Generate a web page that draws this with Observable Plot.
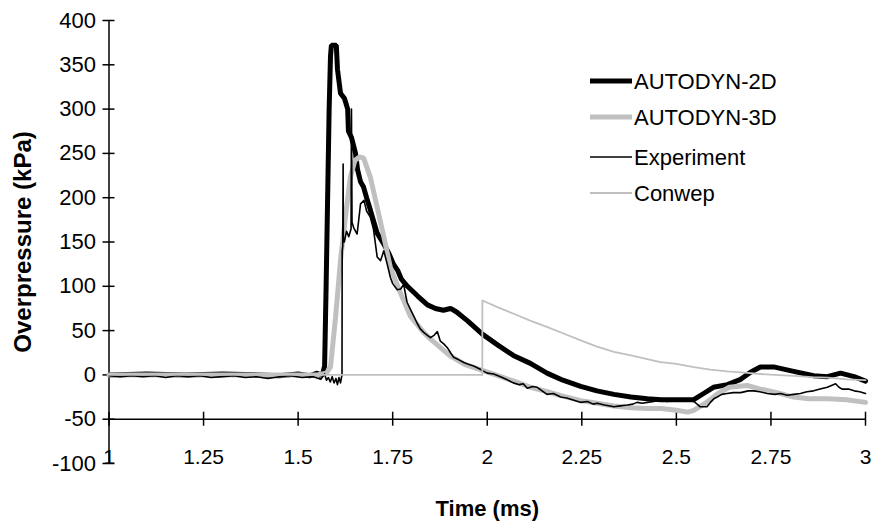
<!DOCTYPE html>
<html><head><meta charset="utf-8">
<script src="https://cdn.jsdelivr.net/npm/d3@7"></script>
<script src="https://cdn.jsdelivr.net/npm/@observablehq/plot@0.6"></script>
<style>
body{margin:0;background:#fff;}
#chart svg{display:block;}
</style>
</head><body><div id="chart"></div>
<script>
const seriesNames = ["AUTODYN-2D", "AUTODYN-3D", "Experiment", "Conwep"];
const xTicks = [1, 1.25, 1.5, 1.75, 2, 2.25, 2.5, 2.75, 3];
const xTickLabels = ["1", "1.25", "1.5", "1.75", "2", "2.25", "2.5", "2.75", "3"];
const yTicks = [-100, -50, 0, 50, 100, 150, 200, 250, 300, 350, 400];
const yTickLabels = ["-100", "-50", "0", "50", "100", "150", "200", "250", "300", "350", "400"];

// AUTODYN-2D
const t2D = [1.000, 1.100, 1.200, 1.300, 1.400, 1.450, 1.500, 1.530, 1.550, 1.560, 1.566, 1.570, 1.574, 1.578, 1.582, 1.5856, 1.588, 1.601, 1.604, 1.612, 1.6226, 1.631, 1.633, 1.641, 1.6517, 1.657, 1.665, 1.673, 1.681, 1.691, 1.709, 1.726, 1.739, 1.752, 1.763, 1.773, 1.789, 1.816, 1.842, 1.863, 1.884, 1.903, 1.919, 1.948, 1.987, 2.030, 2.069, 2.114, 2.158, 2.200, 2.247, 2.290, 2.335, 2.380, 2.423, 2.460, 2.500, 2.546, 2.572, 2.598, 2.635, 2.670, 2.696, 2.722, 2.757, 2.810, 2.863, 2.899, 2.934, 2.970, 3.000];
const p2D = [0, 1, 0, 1, 0, -1, 1, -1, 2, -1, 3, 10, 100, 200, 300, 360, 372, 372, 345, 318, 312, 300, 275, 268, 250, 232, 218, 212, 200, 186, 160, 148, 138, 125, 118, 108, 100, 89, 79, 75, 73, 75, 71, 61, 46, 33, 22, 13, 2, -6, -13, -18, -22, -25, -27, -28, -28, -28, -21, -14, -11, -5, 3, 9, 9, 4, -1, -2, 2, -2, -7];

// AUTODYN-3D
const t3D = [1.000, 1.200, 1.400, 1.550, 1.575, 1.5856, 1.599, 1.612, 1.625, 1.638, 1.650, 1.662, 1.673, 1.691, 1.709, 1.727, 1.744, 1.771, 1.797, 1.832, 1.851, 1.900, 1.940, 1.987, 2.030, 2.070, 2.115, 2.159, 2.200, 2.247, 2.290, 2.335, 2.380, 2.423, 2.460, 2.500, 2.530, 2.546, 2.580, 2.610, 2.640, 2.687, 2.722, 2.766, 2.810, 2.850, 2.900, 2.950, 3.000];
const p3D = [0, 0, 0, 0, 2, 9, 65, 129, 178, 223, 242, 246, 245, 223, 189, 155, 121, 92, 66, 48, 40, 22, 12, 5, -1, -7, -14, -19, -24, -29, -32, -35, -37, -38, -38, -40, -42, -40, -31, -21, -14, -12, -16, -20, -25, -27, -27, -28, -31];

// Experiment
const tExp = [1.000, 1.030, 1.060, 1.090, 1.120, 1.150, 1.180, 1.210, 1.240, 1.270, 1.300, 1.330, 1.360, 1.390, 1.420, 1.450, 1.480, 1.510, 1.540, 1.560, 1.570, 1.575, 1.580, 1.585, 1.590, 1.595, 1.600, 1.604, 1.608, 1.612, 1.616, 1.6165, 1.618, 1.619, 1.6195, 1.622, 1.628, 1.634, 1.640, 1.641, 1.6425, 1.647, 1.656, 1.665, 1.674, 1.681, 1.691, 1.699, 1.709, 1.718, 1.7265, 1.7355, 1.744, 1.750, 1.762, 1.771, 1.779, 1.788, 1.797, 1.806, 1.815, 1.823, 1.832, 1.841, 1.850, 1.860, 1.868, 1.876, 1.885, 1.894, 1.903, 1.911, 1.925, 1.938, 1.950, 1.964, 1.983, 2.000, 2.017, 2.035, 2.050, 2.069, 2.085, 2.095, 2.106, 2.120, 2.132, 2.145, 2.158, 2.175, 2.194, 2.210, 2.225, 2.246, 2.265, 2.280, 2.291, 2.310, 2.335, 2.352, 2.370, 2.385, 2.396, 2.410, 2.423, 2.440, 2.458, 2.475, 2.493, 2.520, 2.546, 2.555, 2.563, 2.581, 2.590, 2.599, 2.608, 2.620, 2.634, 2.650, 2.670, 2.690, 2.705, 2.720, 2.740, 2.760, 2.775, 2.793, 2.810, 2.828, 2.845, 2.863, 2.880, 2.899, 2.910, 2.921, 2.930, 2.938, 2.955, 2.970, 2.985, 3.000];
const pExp = [-1, -2, -1, -2, -1, -3, -1, -2, -1, -3, -2, -1, -3, -2, -4, -2, -1, -3, -2, -5, 1, -6, -3, -8, -2, -9, -4, -11, -3, -9, 0, 140, 145, 238, 152, 150, 162, 156, 165, 300, 172, 166, 159, 193, 197, 185, 178, 165, 133, 129, 140, 125, 110, 103, 96, 97, 102, 82, 74, 66, 58, 52, 48, 45, 42, 45, 49, 38, 35, 31, 25, 20, 17, 14, 12, 10, 6, 2, 1, -2, -5, -9, -11, -10, -15, -13, -14, -18, -22, -21, -25, -26, -28, -31, -30, -33, -32, -34, -36, -35, -34, -33, -31, -32, -31, -30, -28, -30, -29, -28, -30, -33, -36, -36, -31, -27, -25, -22, -21, -20, -20, -18, -18, -19, -21, -22, -21, -23, -22, -21, -19, -18, -16, -14, -12, -10, -14, -16, -16, -18, -19, -21];

// Conwep
const tConwep = [1.000, 1.987, 1.9871, 2.030, 2.070, 2.115, 2.159, 2.200, 2.247, 2.290, 2.335, 2.380, 2.420, 2.458, 2.500, 2.546, 2.590, 2.635, 2.680, 2.722, 2.760, 2.810, 2.860, 2.900, 2.950, 3.000];
const pConwep = [0, 0, 84, 76, 69, 61, 54, 47, 39, 32, 26, 22, 18, 14.5, 12.5, 8.7, 6, 4, 2.5, 1, 0, -1, -2.5, -3, -5, -6];

const zip = (ts, ps, name) => ts.map((t, i) => ({t, p: ps[i], name}));
const d2D = zip(t2D, p2D, seriesNames[0]);
const d3D = zip(t3D, p3D, seriesNames[1]);
const dExp = zip(tExp, pExp, seriesNames[2]);
const dCon = zip(tConwep, pConwep, seriesNames[3]);

const styles = {
  "AUTODYN-2D": {stroke: "#000000", strokeWidth: 5},
  "AUTODYN-3D": {stroke: "#c0c0c0", strokeWidth: 5},
  "Experiment": {stroke: "#000000", strokeWidth: 1.6},
  "Conwep": {stroke: "#c0c0c0", strokeWidth: 1.8}
};

const font = "'Liberation Sans', Arial, sans-serif";
const xUnitPx = 378.25, yUnitPx = 0.886;
const yTickHalf = 6 / xUnitPx;   // tick half-length in x units
const xTickHalf = 7 / yUnitPx;   // tick half-length in y units

const chart = Plot.plot({
  width: 875,
  height: 523,
  marginLeft: 108.5,
  marginRight: 10,
  marginTop: 20,
  marginBottom: 60,
  x: {domain: [1, 3], axis: null},
  y: {domain: [-100, 400], axis: null},
  style: {fontFamily: font, background: "#fff", overflow: "visible"},
  marks: [
    // axis lines
    Plot.ruleX([1], {y1: -100, y2: 400, stroke: "#000", strokeWidth: 1.5}),
    Plot.ruleY([-50], {x1: 1, x2: 3, stroke: "#000", strokeWidth: 1.5}),
    // y ticks (cross)
    Plot.ruleY(yTicks, {y: d => d, x1: 1 - yTickHalf, x2: 1 + yTickHalf, stroke: "#000", strokeWidth: 1.5}),
    // x ticks (cross)
    Plot.ruleX(xTicks, {x: d => d, y1: -50 - xTickHalf, y2: -50 + xTickHalf, stroke: "#000", strokeWidth: 1.5}),
    // y tick labels
    Plot.text(yTicks, {x: 1, y: d => d, text: (d, i) => yTickLabels[i], textAnchor: "end", dx: -13, fontSize: 22, fill: "#000"}),
    // x tick labels
    Plot.text(xTicks, {x: d => d, y: -100, text: (d, i) => xTickLabels[i], dy: -6, fontSize: 21, fill: "#000"}),
    // axis titles
    Plot.text(["Overpressure (kPa)"], {frameAnchor: "left", dx: -86, rotate: -90, textAnchor: "middle", lineAnchor: "middle", fontSize: 24, fontWeight: "bold", fill: "#000"}),
    Plot.text(["Time (ms)"], {frameAnchor: "bottom", dy: 45, textAnchor: "middle", lineAnchor: "middle", fontSize: 22, fontWeight: "bold", fill: "#000"}),
    // series
    Plot.line(d2D, {x: "t", y: "p", ...styles["AUTODYN-2D"], strokeLinejoin: "miter"}),
    Plot.line(d3D, {x: "t", y: "p", ...styles["AUTODYN-3D"], strokeLinejoin: "miter"}),
    Plot.line(dExp, {x: "t", y: "p", ...styles["Experiment"]}),
    Plot.line(dCon, {x: "t", y: "p", ...styles["Conwep"]})
  ]
});

document.getElementById("chart").appendChild(chart);

// Legend (drawn into the plot's SVG)
const svg = d3.select(chart);
const legendRowsY = [81, 117, 157, 193];
const leg = svg.append("g").attr("font-family", font).attr("font-size", 22).attr("text-anchor", "start");
seriesNames.forEach((name, i) => {
  const s = styles[name];
  leg.append("line").attr("x1", 590).attr("x2", 632)
    .attr("y1", legendRowsY[i]).attr("y2", legendRowsY[i])
    .attr("stroke", s.stroke).attr("stroke-width", s.strokeWidth);
  leg.append("text").attr("x", 634).attr("y", legendRowsY[i])
    .attr("dy", "0.35em").attr("fill", "#000").attr("text-anchor", "start").text(name);
});
</script>
</body></html>
